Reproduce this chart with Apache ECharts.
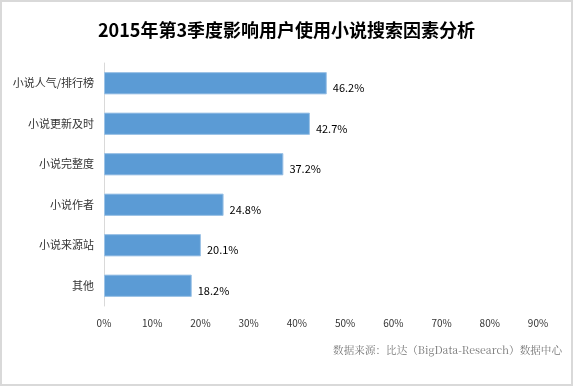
<!DOCTYPE html>
<html><head><meta charset="utf-8">
<script src="https://cdn.jsdelivr.net/npm/echarts@6/dist/echarts.min.js"></script>
<style>html,body{margin:0;padding:0;background:#fff}#c{width:573px;height:386px;box-sizing:border-box;border:2px solid #d9d9d9}</style>
</head><body><div id="c"></div>
<script>
const categories = ['小说人气/排行榜','小说更新及时','小说完整度','小说作者','小说来源站','其他'];
const values = [46.2, 42.7, 37.2, 24.8, 20.1, 18.2];
const tickMax = 90;
const chart = echarts.init(document.getElementById('c'));
chart.setOption({
  animation:false,
  title:{text:'2015年第3季度影响用户使用小说搜索因素分析',left:'center',top:14,
    textStyle:{fontFamily:'Noto Sans CJK SC',fontSize:18,fontWeight:'bold',color:'#000'}},
  graphic:[{type:'text',right:9,top:343,style:{text:'数据来源：比达（BigData-Research）数据中心',
    font:'10.6px "Noto Serif CJK SC", "Noto Sans CJK SC", serif',fill:'#777'}}],
  grid:{left:102,right:33,top:61,bottom:78},
  xAxis:{type:'value',min:0,max:tickMax,interval:10,
    axisLabel:{formatter:'{value}%',color:'#333',fontSize:10,fontFamily:'Noto Sans CJK SC',margin:12},
    splitLine:{show:false},axisLine:{show:false},axisTick:{show:false}},
  yAxis:{type:'category',data:categories,inverse:true,
    axisLine:{lineStyle:{color:'#d9d9d9',width:1}},axisTick:{show:false},
    axisLabel:{color:'#333',fontSize:11,fontFamily:'Noto Sans CJK SC',margin:10}},
  series:[{type:'bar',data:values,barCategoryGap:'45%',
    itemStyle:{color:'#5B9BD5',borderColor:'#9DC3E6',borderWidth:1},
    label:{show:true,position:'right',offset:[0,5],formatter:'{c}%',color:'#000',fontSize:11,fontFamily:'Noto Sans CJK SC',distance:6}}]
});
</script></body></html>
